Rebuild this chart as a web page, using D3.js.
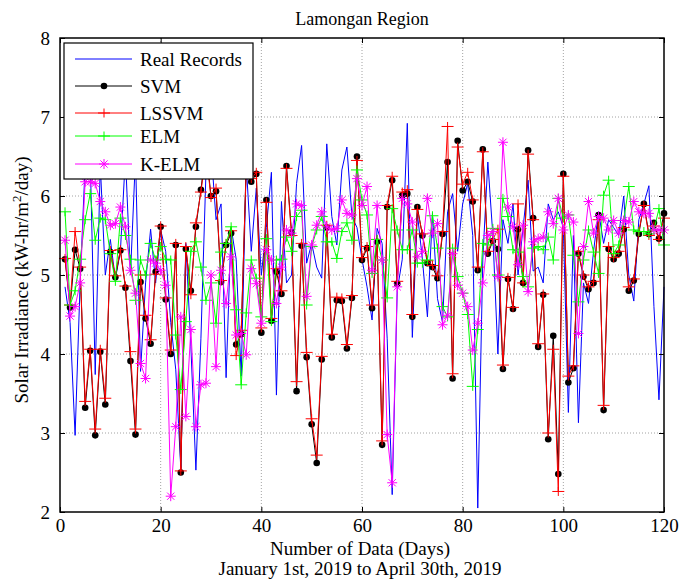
<!DOCTYPE html>
<html>
<head>
<meta charset="utf-8">
<script src="https://cdn.jsdelivr.net/npm/d3@7/dist/d3.min.js"></script>
<style>
  body { margin: 0; background: #fff; }
  text { font-family: "Liberation Serif", "Times New Roman", serif; fill: #000; }
</style>
</head>
<body>
<div id="chart"></div>
<script>
// Daily values, day 1 .. day 120
var realRecords = [4.85,4.40,2.97,4.90,6.40,6.50,3.74,6.40,5.00,5.45,4.95,5.30,6.50,5.00,6.50,3.78,4.90,5.58,4.90,5.57,
  5.30,4.40,3.80,2.55,5.40,4.10,2.53,4.20,6.30,6.60,5.70,5.90,3.70,5.60,5.20,3.72,6.40,5.30,6.10,5.00,
  5.60,6.30,3.48,5.93,4.90,5.00,6.16,6.64,5.15,5.40,5.10,4.96,6.66,5.74,5.38,6.33,6.62,5.74,5.60,5.20,
  4.85,4.43,5.59,5.40,4.20,2.22,4.80,5.20,6.92,4.21,5.78,5.20,4.47,5.78,4.70,4.40,5.80,6.03,5.30,5.90,
  6.16,5.50,2.05,5.20,6.43,5.50,4.00,5.70,5.40,5.90,5.00,5.60,6.20,5.05,5.10,4.90,5.90,5.70,5.80,5.60,
  3.26,5.50,3.13,4.90,4.64,5.30,5.80,5.40,5.70,5.60,5.50,6.00,5.00,4.67,5.70,5.90,6.13,4.60,3.42,4.85];

var svm = [5.20,4.59,5.32,5.08,3.32,4.04,2.97,4.03,3.36,5.29,4.97,5.31,4.84,3.91,2.98,4.91,4.45,4.13,5.04,5.61,
  4.69,4.00,5.38,2.50,5.33,4.80,5.61,6.08,6.60,6.00,6.06,4.91,5.38,5.53,4.12,4.25,6.40,6.18,6.28,4.27,
  5.95,4.42,5.04,4.76,6.38,5.54,3.53,5.37,3.96,3.11,2.62,3.93,5.60,4.21,4.68,4.67,4.07,4.71,6.50,5.19,
  5.34,4.58,5.42,2.85,5.86,6.20,4.89,6.01,6.03,4.47,5.86,5.50,5.15,5.10,4.96,5.52,6.43,3.69,6.70,6.07,
  6.18,5.93,5.06,6.59,5.27,5.43,5.33,3.81,4.95,4.57,5.58,4.90,6.58,5.72,4.09,4.75,2.92,4.23,2.48,6.28,
  3.64,3.82,5.27,4.98,4.82,4.90,5.76,3.29,5.33,5.20,5.27,5.58,4.80,4.93,5.52,5.90,5.52,5.66,5.46,5.78];

var lssvm = [5.21,4.62,5.55,5.10,3.40,4.06,3.05,4.06,3.44,5.31,4.99,5.32,4.86,4.03,3.05,5.00,4.49,4.18,5.01,5.62,
  4.71,4.05,5.40,2.52,5.36,4.75,5.66,6.05,6.55,5.98,6.10,4.93,5.40,5.56,3.98,4.30,6.35,6.22,6.30,4.33,
  5.92,4.45,5.08,4.80,6.35,5.50,3.65,5.40,4.02,3.18,2.72,3.97,5.63,4.25,4.72,4.71,4.12,4.74,6.45,5.22,
  5.36,4.62,5.45,2.90,5.88,6.25,4.92,6.05,6.08,4.50,5.83,5.52,5.18,5.12,4.99,5.55,6.88,3.75,6.62,6.15,
  6.30,5.95,5.10,6.56,5.30,5.45,5.58,3.86,4.97,4.59,5.90,4.90,6.53,5.70,4.13,4.76,3.00,4.06,2.26,6.25,
  3.72,3.85,5.30,5.00,4.85,4.92,5.70,3.35,5.36,5.22,5.30,5.60,4.85,4.95,5.55,5.88,5.50,5.62,5.45,5.72];

var elm = [5.80,4.62,4.80,5.20,5.70,6.03,5.44,5.72,5.70,5.27,4.92,5.72,5.50,5.20,4.68,5.19,5.00,5.40,5.19,5.36,
  5.20,5.19,4.24,3.55,4.41,5.30,5.42,5.10,4.68,4.90,4.39,5.29,5.40,5.61,4.56,3.61,4.52,5.19,4.96,4.47,
  5.46,4.41,5.19,5.20,5.48,5.30,5.74,5.82,4.62,5.36,5.57,5.74,5.42,5.42,5.21,5.55,5.66,5.44,6.33,5.95,
  5.76,5.02,5.45,5.19,4.71,5.84,5.57,5.32,5.32,5.57,5.15,5.15,5.19,5.75,5.34,4.60,4.47,5.34,4.98,4.77,
  4.50,3.59,4.31,5.40,5.38,5.59,5.00,5.97,5.74,5.32,5.29,4.98,4.85,5.34,5.36,5.32,5.48,5.19,5.97,5.72,
  5.76,5.25,4.66,5.19,5.57,5.29,5.02,6.01,6.20,5.27,5.38,5.69,6.12,5.57,5.55,5.55,5.52,5.57,5.84,5.38];

var kelm = [5.44,4.48,4.60,4.90,6.18,6.18,6.16,5.93,5.80,5.63,5.65,5.86,5.61,5.06,4.77,3.88,3.69,5.19,5.15,5.06,
  4.87,2.20,3.08,4.47,3.21,4.31,3.08,3.61,3.63,5.00,3.84,5.06,4.64,5.23,4.24,4.26,3.99,5.08,4.89,4.39,
  5.32,5.19,4.64,5.10,5.57,5.53,5.90,5.88,4.73,5.38,5.63,5.80,5.61,5.57,5.59,5.95,5.78,5.76,6.22,5.88,
  6.12,5.06,5.88,5.19,2.98,2.37,4.85,5.97,5.90,5.67,5.23,5.30,5.97,5.53,5.65,4.37,4.49,5.27,4.87,4.77,
  4.60,4.05,4.39,4.90,5.50,5.55,4.98,6.68,5.86,5.61,5.13,5.63,4.79,5.42,5.46,5.48,5.80,5.65,5.97,5.57,
  5.76,5.67,4.26,5.36,5.93,5.53,5.74,5.72,5.57,5.69,5.53,5.69,5.67,5.93,5.80,5.78,5.78,5.57,5.57,5.57];

var days = d3.range(1, realRecords.length + 1);
var xTicks = [0, 20, 40, 60, 80, 100, 120];
var yTicks = [2, 3, 4, 5, 6, 7, 8];
var legendNames = ["Real Records", "SVM", "LSSVM", "ELM", "K-ELM"];

// set the dimensions and margins of the graph
var margin = {top: 38, right: 16, bottom: 69, left: 60},
    width = 680 - margin.left - margin.right,
    height = 581 - margin.top - margin.bottom;

var root = d3.select("#chart")
  .append("svg")
    .attr("width", 680)
    .attr("height", 581);

var svg = root.append("g")
    .attr("transform", "translate(" + margin.left + "," + margin.top + ")");

var x = d3.scaleLinear().domain([0, 120]).range([0, width]);
var y = d3.scaleLinear().domain([2, 8]).range([height, 0]);

// dotted grid
svg.selectAll(".gx")
  .data(xTicks.slice(1, -1))
  .enter().append("line")
    .attr("x1", d => x(d)).attr("x2", d => x(d))
    .attr("y1", 0).attr("y2", height)
    .attr("stroke", "#8c8c8c").attr("stroke-width", 0.8)
    .attr("stroke-dasharray", "1,2");
svg.selectAll(".gy")
  .data(yTicks.slice(1, -1))
  .enter().append("line")
    .attr("y1", d => y(d)).attr("y2", d => y(d))
    .attr("x1", 0).attr("x2", width)
    .attr("stroke", "#8c8c8c").attr("stroke-width", 0.8)
    .attr("stroke-dasharray", "1,2");

// series
function series(vals) { return days.map((d, i) => ({day: d, v: vals[i]})); }
var line = d3.line().x(d => x(d.day)).y(d => y(d.v));

function plusPath(s, h) { return "M" + (-s) + ",0H" + s + "M0," + (-h) + "V" + h; }
function starPath(s) {
  var k = s * 0.72;
  return "M" + (-s) + ",0H" + s + "M0," + (-s) + "V" + s +
         "M" + (-k) + "," + (-k) + "L" + k + "," + k + "M" + (-k) + "," + k + "L" + k + "," + (-k);
}

var specs = [
  {vals: realRecords, color: "#0000ff", marker: "none"},
  {vals: svm, color: "#000000", marker: "dot"},
  {vals: lssvm, color: "#ff0000", marker: "plus"},
  {vals: elm, color: "#00ff00", marker: "plus"},
  {vals: kelm, color: "#ff00ff", marker: "star"}
];

function drawMarkers(g, pts, spec) {
  if (spec.marker == "dot") {
    g.selectAll("circle").data(pts).enter().append("circle")
      .attr("cx", d => x(d.day)).attr("cy", d => y(d.v))
      .attr("r", 3.3).attr("fill", "#000");
  } else if (spec.marker == "plus") {
    g.selectAll("path.m").data(pts).enter().append("path")
      .attr("transform", d => "translate(" + x(d.day) + "," + y(d.v) + ")")
      .attr("d", plusPath(6, 4.5))
      .attr("stroke", spec.color).attr("stroke-width", 1).attr("fill", "none");
  } else if (spec.marker == "star") {
    g.selectAll("path.m").data(pts).enter().append("path")
      .attr("transform", d => "translate(" + x(d.day) + "," + y(d.v) + ")")
      .attr("d", starPath(5))
      .attr("stroke", spec.color).attr("stroke-width", 1).attr("fill", "none");
  }
}

specs.forEach(function(spec) {
  var pts = series(spec.vals);
  var g = svg.append("g");
  g.append("path")
    .datum(pts)
    .attr("d", line)
    .attr("fill", "none")
    .attr("stroke", spec.color)
    .attr("stroke-width", 1);
  drawMarkers(g, pts, spec);
});

// axes, MATLAB style: ticks inward on all four sides
var fmt = d3.format("d");
svg.append("g")
  .attr("transform", "translate(0," + height + ")")
  .call(d3.axisBottom(x).tickValues(xTicks).tickFormat(fmt).tickSizeInner(-5).tickSizeOuter(0).tickPadding(7))
  .call(g => g.select(".domain").remove());
svg.append("g")
  .call(d3.axisTop(x).tickValues(xTicks).tickSizeInner(-5).tickSizeOuter(0).tickFormat(""))
  .call(g => g.select(".domain").remove());
svg.append("g")
  .call(d3.axisLeft(y).tickValues(yTicks).tickFormat(fmt).tickSizeInner(-5).tickSizeOuter(0).tickPadding(10))
  .call(g => g.select(".domain").remove());
svg.append("g")
  .attr("transform", "translate(" + width + ",0)")
  .call(d3.axisRight(y).tickValues(yTicks).tickSizeInner(-5).tickSizeOuter(0).tickFormat(""))
  .call(g => g.select(".domain").remove());

svg.selectAll(".tick line").attr("stroke", "#000");
svg.selectAll(".tick text")
  .style("font-family", "'Liberation Serif', 'Times New Roman', serif")
  .style("font-size", "19px")
  .attr("fill", "#000");

// frame
svg.append("rect")
  .attr("width", width).attr("height", height)
  .attr("fill", "none").attr("stroke", "#000").attr("stroke-width", 1.5);

// legend
var leg = svg.append("g").attr("transform", "translate(4,5)");
leg.append("rect")
  .attr("width", 189).attr("height", 136)
  .attr("fill", "#fff").attr("stroke", "#000").attr("stroke-width", 1.2);
var legY = [16, 43, 70, 93, 121];
legendNames.forEach(function(name, i) {
  var spec = specs[i];
  var row = leg.append("g").attr("transform", "translate(0," + legY[i] + ")");
  row.append("line")
    .attr("x1", 11).attr("x2", 68).attr("y1", 0).attr("y2", 0)
    .attr("stroke", spec.color).attr("stroke-width", 1);
  if (spec.marker == "dot") {
    row.append("circle").attr("cx", 40).attr("cy", 0).attr("r", 3.3).attr("fill", "#000");
  } else if (spec.marker == "plus") {
    row.append("path").attr("transform", "translate(40,0)").attr("d", plusPath(6, 4.5))
      .attr("stroke", spec.color).attr("fill", "none");
  } else if (spec.marker == "star") {
    row.append("path").attr("transform", "translate(40,0)").attr("d", starPath(5))
      .attr("stroke", spec.color).attr("fill", "none");
  }
  row.append("text")
    .attr("x", 76).attr("y", 6.5)
    .style("font-size", "19px")
    .text(name);
});

// titles
root.append("text")
  .attr("x", margin.left + width / 2).attr("y", 25)
  .attr("text-anchor", "middle")
  .style("font-size", "18px")
  .text("Lamongan Region");

root.append("text")
  .attr("x", margin.left + width / 2 - 2).attr("y", 555)
  .attr("text-anchor", "middle")
  .style("font-size", "19px")
  .text("Number of Data (Days)");

root.append("text")
  .attr("x", margin.left + width / 2 - 2).attr("y", 575)
  .attr("text-anchor", "middle")
  .style("font-size", "19px")
  .text("January 1st, 2019 to April 30th, 2019");

var ylab = root.append("text")
  .attr("transform", "translate(28," + (margin.top + height / 2 + 5) + ") rotate(-90)")
  .attr("text-anchor", "middle")
  .style("font-size", "19px");
ylab.append("tspan").text("Solar Irradiance (kW-hr/m");
ylab.append("tspan").attr("dy", -7).style("font-size", "13px").text("2");
ylab.append("tspan").attr("dy", 7).text("/day)");
</script>
</body>
</html>
